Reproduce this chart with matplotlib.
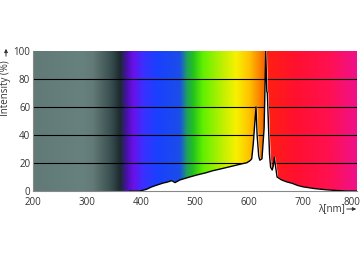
import numpy as np
import matplotlib
matplotlib.use("Agg")
import matplotlib.pyplot as plt
from matplotlib.colors import LinearSegmentedColormap
from matplotlib.transforms import ScaledTranslation

plt.rcParams['font.family'] = ['Open Sans', 'DejaVu Sans']

# spectrum
wavelength = [380, 398, 410, 420, 430, 441, 450, 457, 463, 472, 490, 503, 520, 533,
              550, 565, 580, 596, 602, 605, 608, 611, 613, 615, 618, 620, 624, 628,
              631, 633, 634, 636, 638, 640, 643, 645, 647, 649, 652, 660, 670, 680,
              690, 700, 720, 740, 760, 780, 800]
intensity = [0, 0, 1.2, 3, 4.3, 5.7, 6.5, 7.4, 6, 7.9, 10, 11.4, 13, 14.5,
             16, 17.4, 18.8, 20.2, 21.7, 23, 34, 50, 60, 40, 25, 22, 23, 45,
             100, 71, 70, 47, 26, 17, 15, 18, 24, 18, 10, 8, 6.5, 5.5,
             4, 3, 1.8, 1, 0.4, 0, 0]

x_ticks = [200, 300, 400, 500, 600, 700, 800]
y_ticks = [0, 20, 40, 60, 80, 100]

# background colour stops (wavelength, colour)
bg_stops = [(200, '#617a78'), (290, '#67817e'), (310, '#627a78'), (343, '#3a5050'),
            (361, '#1b2a2e'), (374, '#4a10b0'), (385, '#6a10e8'), (404, '#3a30ff'),
            (430, '#1a40ff'), (472, '#1a4ee8'), (485, '#20a060'), (496, '#20c020'),
            (515, '#60f000'), (552, '#c0f000'), (577, '#f8f000'), (602, '#ffc000'),
            (626, '#f87000'), (631, '#f86000'), (632, '#ff2010'), (690, '#ff1030'),
            (750, '#ff1050'), (800, '#f0108a')]
cmap = LinearSegmentedColormap.from_list(
    'bg', [((w - 200) / 600, c) for w, c in bg_stops])

fig = plt.figure(figsize=(3.6, 2.62), dpi=100)
ax = fig.add_axes([33 / 360, 1 - 191 / 262, 324 / 360, 140 / 262])

grad = np.linspace(0, 1, 1200).reshape(1, -1)
ax.imshow(grad, cmap=cmap, extent=[200, 800, 0, 100], aspect='auto',
          interpolation='bilinear', zorder=0)

for y in y_ticks[1:-1]:
    ax.axhline(y, color='black', lw=0.8, zorder=1)

ax.fill_between(wavelength, intensity, 0, color='white', zorder=2)
ax.plot(wavelength, intensity, color='black', lw=1.0, zorder=3)

ax.set_xlim(200, 800)
ax.set_ylim(0, 100)
ax.set_xticks(x_ticks)
ax.set_yticks(y_ticks)
ax.tick_params(length=0, labelsize=7, colors='#333333')
ax.tick_params(axis='x', pad=4)
ax.tick_params(axis='y', pad=2)
for s in ['top', 'right']:
    ax.spines[s].set_visible(False)
for s in ['left', 'bottom']:
    ax.spines[s].set_color('#888888')
    ax.spines[s].set_linewidth(0.8)

# last x label pulled in so it fits
last = ax.get_xticklabels()[-1]
last.set_transform(last.get_transform() + ScaledTranslation(-5 / 100, 0, fig.dpi_scale_trans))

fig.text(6 / 360, 1 - 88 / 262, 'Intensity (%)', rotation=90, ha='center',
         va='center', fontsize=7, color='#333333')
fig.patches.append(matplotlib.patches.FancyArrowPatch(
    (6 / 360, 1 - 59 / 262), (6 / 360, 1 - 46 / 262), transform=fig.transFigure,
    arrowstyle='-|>', mutation_scale=5, lw=0.7, color='#333333'))

fig.text(331 / 360, 1 - 209 / 262, 'λ[nm]', ha='center', va='center',
         fontsize=7, color='#333333')
fig.patches.append(matplotlib.patches.FancyArrowPatch(
    (344 / 360, 1 - 209 / 262), (359 / 360, 1 - 209 / 262), transform=fig.transFigure,
    arrowstyle='-|>', mutation_scale=5, lw=0.7, color='#333333'))

fig.savefig('out.png', dpi=100)
